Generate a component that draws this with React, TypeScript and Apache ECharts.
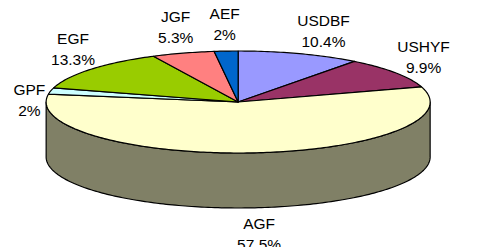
import React, { useEffect, useRef } from "react";
import * as echarts from "echarts";

const names = ["USDBF", "USHYF", "AGF", "GPF", "EGF", "JGF", "AEF"];
const values = [10.4, 9.9, 57.5, 2, 13.3, 5.3, 2];
const colors = ["#9999FF", "#993366", "#FFFFCC", "#CCFFFF", "#99CC00", "#FF8080", "#0066CC"];

const FONT_SIZE = 15.5;
const FONT_FAMILY = '"Liberation Sans", Arial, sans-serif';

// small label placement nudges (layout only), in px
const labelNudge: Record<string, [number, number]> = {
  USDBF: [13, 3],
  GPF: [2, 15],
  EGF: [5, -3],
  AGF: [5, -1],
};

function darken(hex: string, k: number) {
  const n = parseInt(hex.slice(1), 16);
  const r = Math.round(((n >> 16) & 255) * k);
  const g = Math.round(((n >> 8) & 255) * k);
  const b = Math.round((n & 255) * k);
  return `rgb(${r},${g},${b})`;
}

let measureCtx: CanvasRenderingContext2D | null = null;
function textWidth(s: string) {
  if (!measureCtx) {
    measureCtx = document.createElement("canvas").getContext("2d");
  }
  if (!measureCtx) return s.length * 8;
  measureCtx.font = `${FONT_SIZE}px ${FONT_FAMILY}`;
  return measureCtx.measureText(s).width;
}

export default function App() {
  const ref = useRef<HTMLDivElement>(null);

  useEffect(() => {
    document.body.style.margin = "0";
    if (!ref.current) return;
    const chart = echarts.init(ref.current, null, { renderer: "svg" });

    const total = values.reduce((a, b) => a + b, 0);
    const starts: number[] = [];
    let acc = 0;
    values.forEach((v) => {
      starts.push((acc / total) * 360);
      acc += v;
    });

    const renderItem = (params: any, api: any) => {
      const idx = params.dataIndex;
      const v = api.value(0) as number;
      const W = api.getWidth();
      const cx = W * 0.49;
      const cy = 102;
      const rx = 192;
      const ry = 51;
      const depth = 55;
      const a0 = starts[idx];
      const a1 = a0 + (v / total) * 360;

      const pt = (deg: number, dy = 0): number[] => {
        const t = (deg * Math.PI) / 180;
        return [cx + rx * Math.sin(t), cy - ry * Math.cos(t) + dy];
      };
      const arc = (s: number, e: number, dy = 0) => {
        const n = Math.max(2, Math.ceil(Math.abs(e - s) / 1));
        const out: number[][] = [];
        for (let i = 0; i <= n; i++) out.push(pt(s + ((e - s) * i) / n, dy));
        return out;
      };

      const children: any[] = [];
      const s = Math.max(a0, 90);
      const e = Math.min(a1, 270);
      if (s < e) {
        const pts = arc(s, e).concat(arc(e, s, depth));
        children.push({
          type: "polygon",
          shape: { points: pts },
          style: { fill: darken(colors[idx], 0.5), stroke: "#000", lineWidth: 1.2, lineJoin: "round" },
        });
      }
      children.push({
        type: "polygon",
        shape: { points: [[cx, cy]].concat(arc(a0, a1)) },
        style: { fill: colors[idx], stroke: "#000", lineWidth: 1.2, lineJoin: "round" },
      });

      const mid = ((a0 + a1) / 2) * (Math.PI / 180);
      const sn = Math.sin(mid);
      const cs = Math.cos(mid);
      const line1 = names[idx];
      const line2 = `${v}%`;
      const w = Math.max(textWidth(line1), textWidth(line2));
      const h = 38;
      const d = 8;
      const nudge = labelNudge[line1] || [0, 0];
      const lx = cx + (rx + d) * sn + (sn * w) / 2 + nudge[0];
      const ly = cy - (ry + d) * cs - (cs * h) / 2 + (cs < 0 ? depth : 0) + nudge[1];
      children.push({
        type: "text",
        style: {
          text: `${line1}\n${line2}`,
          x: lx,
          y: ly,
          fill: "#000",
          fontSize: FONT_SIZE,
          fontFamily: FONT_FAMILY,
          align: "center",
          verticalAlign: "middle",
          lineHeight: 21,
        },
      });

      return { type: "group", children };
    };

    chart.setOption({
      animation: false,
      backgroundColor: "#fff",
      series: [
        {
          type: "custom",
          coordinateSystem: "none",
          renderItem,
          data: values.map((v, i) => ({ value: v, name: names[i] })),
        },
      ],
    });

    return () => chart.dispose();
  }, []);

  return <div ref={ref} style={{ width: 486, height: 247 }} />;
}
